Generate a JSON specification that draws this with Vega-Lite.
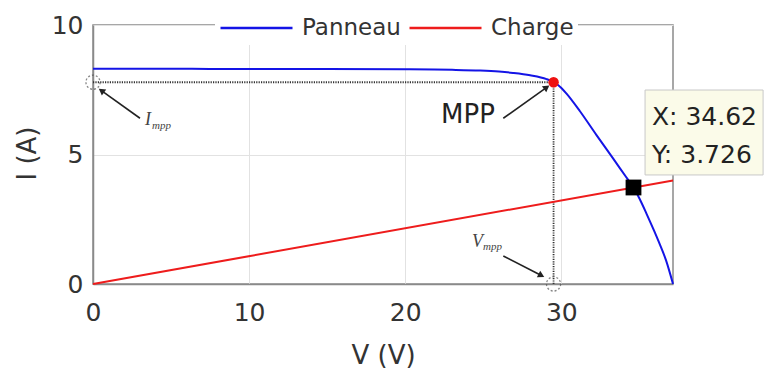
{
  "$schema": "https://vega.github.io/schema/vega-lite/v6.json",
  "width": 580,
  "height": 259,
  "autosize": {"type": "none"},
  "padding": {"left": 93, "top": 25, "right": 97, "bottom": 84},
  "background": "white",
  "config": {
    "font": "DejaVu Sans",
    "view": {"stroke": "#8a8a8a", "strokeWidth": 1.5},
    "axis": {
      "labelFontSize": 25,
      "labelColor": "#333333",
      "labelFlush": false,
      "titleFontSize": 26,
      "titleFontWeight": "normal",
      "titleColor": "#333333",
      "domainColor": "#8a8a8a",
      "domainWidth": 1.5,
      "ticks": false,
      "gridColor": "#e2e2e2",
      "gridWidth": 1
    }
  },
  "datasets": {
    "curve": [
      {"s": "Panneau", "V": 0, "I": 8.31},
      {"s": "Panneau", "V": 5, "I": 8.31},
      {"s": "Panneau", "V": 10, "I": 8.3},
      {"s": "Panneau", "V": 15, "I": 8.3},
      {"s": "Panneau", "V": 20, "I": 8.29},
      {"s": "Panneau", "V": 23, "I": 8.27},
      {"s": "Panneau", "V": 24.8, "I": 8.24},
      {"s": "Panneau", "V": 26, "I": 8.2},
      {"s": "Panneau", "V": 26.9, "I": 8.15},
      {"s": "Panneau", "V": 28, "I": 8.06},
      {"s": "Panneau", "V": 29.05, "I": 7.91},
      {"s": "Panneau", "V": 29.5, "I": 7.79},
      {"s": "Panneau", "V": 30, "I": 7.57},
      {"s": "Panneau", "V": 30.33, "I": 7.35},
      {"s": "Panneau", "V": 31.18, "I": 6.68},
      {"s": "Panneau", "V": 32.25, "I": 5.75},
      {"s": "Panneau", "V": 33.31, "I": 4.85},
      {"s": "Panneau", "V": 34.17, "I": 4.11},
      {"s": "Panneau", "V": 34.62, "I": 3.726},
      {"s": "Panneau", "V": 35.0, "I": 3.3},
      {"s": "Panneau", "V": 35.45, "I": 2.72},
      {"s": "Panneau", "V": 36.0, "I": 1.97},
      {"s": "Panneau", "V": 36.3, "I": 1.54},
      {"s": "Panneau", "V": 36.7, "I": 0.92},
      {"s": "Panneau", "V": 37.15, "I": 0},
      {"s": "Charge", "V": 0, "I": 0},
      {"s": "Charge", "V": 37.15, "I": 3.998}
    ],
    "dots": [
      {"V": 0, "I": 7.79, "V2": 29.5, "I2": 7.79},
      {"V": 29.5, "I": 0, "V2": 29.5, "I2": 7.79}
    ],
    "circ": [{"V": 0, "I": 7.79}, {"V": 29.5, "I": 0}],
    "arrows": [
      {"V": 3.01, "I": 6.4, "V2": 0.54, "I2": 7.47},
      {"V": 26.28, "I": 6.4, "V2": 29.06, "I2": 7.59},
      {"V": 26.28, "I": 1.08, "V2": 28.72, "I2": 0.33}
    ],
    "heads": [
      {"V": 0.54, "I": 7.47, "a": 306},
      {"V": 29.06, "I": 7.59, "a": 54.5},
      {"V": 28.72, "I": 0.33, "a": 117}
    ],
    "mpp": [{"V": 29.5, "I": 7.79}],
    "op": [{"V": 34.62, "I": 3.726}],
    "labels": [{"V": 24.02, "I": 6.53, "t": "MPP"}],
    "sym": [{"V": 3.33, "I": 6.33, "t": "I"}, {"V": 24.28, "I": 1.62, "t": "V"}],
    "sub": [{"V": 3.78, "I": 6.1, "t": "mpp"}, {"V": 24.98, "I": 1.43, "t": "mpp"}],
    "tipbox": [{"V": 35.36, "V2": 42.92, "I": 7.49, "I2": 4.21}],
    "tiptext": [{"V": 35.8, "I": 6.45, "t": "X: 34.62"}, {"V": 35.8, "I": 4.98, "t": "Y: 3.726"}]
  },
  "encoding": {
    "x": {
      "field": "V",
      "type": "quantitative",
      "scale": {"domain": [0, 37.15], "nice": false, "zero": false},
      "axis": {
        "values": [0, 10, 20, 30],
        "title": "V (V)",
        "grid": true,
        "labelPadding": 16,
        "titleX": 290,
        "titleY": 71,
        "titleBaseline": "middle",
        "titleAlign": "center"
      }
    },
    "y": {
      "field": "I",
      "type": "quantitative",
      "scale": {"domain": [0, 10], "nice": false},
      "axis": {
        "values": [0, 5, 10],
        "title": "I (A)",
        "grid": true,
        "labelPadding": 10,
        "titleX": -66,
        "titleY": 128,
        "titleAngle": 270,
        "titleBaseline": "middle",
        "titleAlign": "center"
      }
    }
  },
  "layer": [
    {
      "data": {"name": "dots"},
      "mark": {"type": "rule", "color": "#333333", "strokeWidth": 1.8, "strokeDash": [1.2, 1.2]},
      "encoding": {"x2": {"field": "V2"}, "y2": {"field": "I2"}}
    },
    {
      "data": {"name": "curve"},
      "mark": {"type": "line", "strokeWidth": 2, "interpolate": "monotone"},
      "encoding": {
        "color": {
          "field": "s",
          "type": "nominal",
          "scale": {"domain": ["Panneau", "Charge"], "range": ["#1414e6", "#ee1c1c"]},
          "legend": {
            "orient": "none",
            "legendX": 122,
            "legendY": -14,
            "direction": "horizontal",
            "title": null,
            "fillColor": "white",
            "padding": 4,
            "labelFontSize": 23,
            "labelColor": "#333333",
            "symbolType": "stroke",
            "symbolSize": 5184,
            "symbolStrokeWidth": 2.5,
            "columnPadding": 7,
            "labelOffset": 8,
            "clipHeight": 26
          }
        }
      }
    },
    {
      "data": {"name": "circ"},
      "mark": {"type": "point", "shape": "circle", "filled": false, "size": 200, "color": "#555555", "strokeWidth": 1.3, "strokeDash": [2, 2]}
    },
    {
      "data": {"name": "arrows"},
      "mark": {"type": "rule", "color": "#222222", "strokeWidth": 1.6},
      "encoding": {"x2": {"field": "V2"}, "y2": {"field": "I2"}}
    },
    {
      "data": {"name": "heads"},
      "mark": {"type": "point", "shape": "triangle-up", "filled": true, "size": 55, "color": "#222222", "opacity": 1},
      "encoding": {"angle": {"field": "a", "type": "quantitative", "scale": null}}
    },
    {
      "data": {"name": "mpp"},
      "mark": {"type": "point", "shape": "circle", "filled": true, "size": 110, "color": "#ee1111", "opacity": 1}
    },
    {
      "data": {"name": "op"},
      "mark": {"type": "point", "shape": "square", "filled": true, "size": 250, "color": "#000000", "opacity": 1}
    },
    {
      "data": {"name": "labels"},
      "mark": {"type": "text", "fontSize": 26, "color": "#222222", "align": "center", "baseline": "middle"},
      "encoding": {"text": {"field": "t"}}
    },
    {
      "data": {"name": "sym"},
      "mark": {"type": "text", "font": "Liberation Serif", "fontStyle": "italic", "fontSize": 18, "color": "#444444", "align": "left", "baseline": "middle"},
      "encoding": {"text": {"field": "t"}}
    },
    {
      "data": {"name": "sub"},
      "mark": {"type": "text", "font": "Liberation Serif", "fontStyle": "italic", "fontSize": 11, "color": "#444444", "align": "left", "baseline": "middle"},
      "encoding": {"text": {"field": "t"}}
    },
    {
      "data": {"name": "tipbox"},
      "mark": {"type": "rect", "fill": "#fbfbe9", "stroke": "#c8c8c8", "strokeWidth": 1},
      "encoding": {"x2": {"field": "V2"}, "y2": {"field": "I2"}}
    },
    {
      "data": {"name": "tiptext"},
      "mark": {"type": "text", "fontSize": 25, "color": "#222222", "align": "left", "baseline": "middle"},
      "encoding": {"text": {"field": "t"}}
    }
  ]
}
